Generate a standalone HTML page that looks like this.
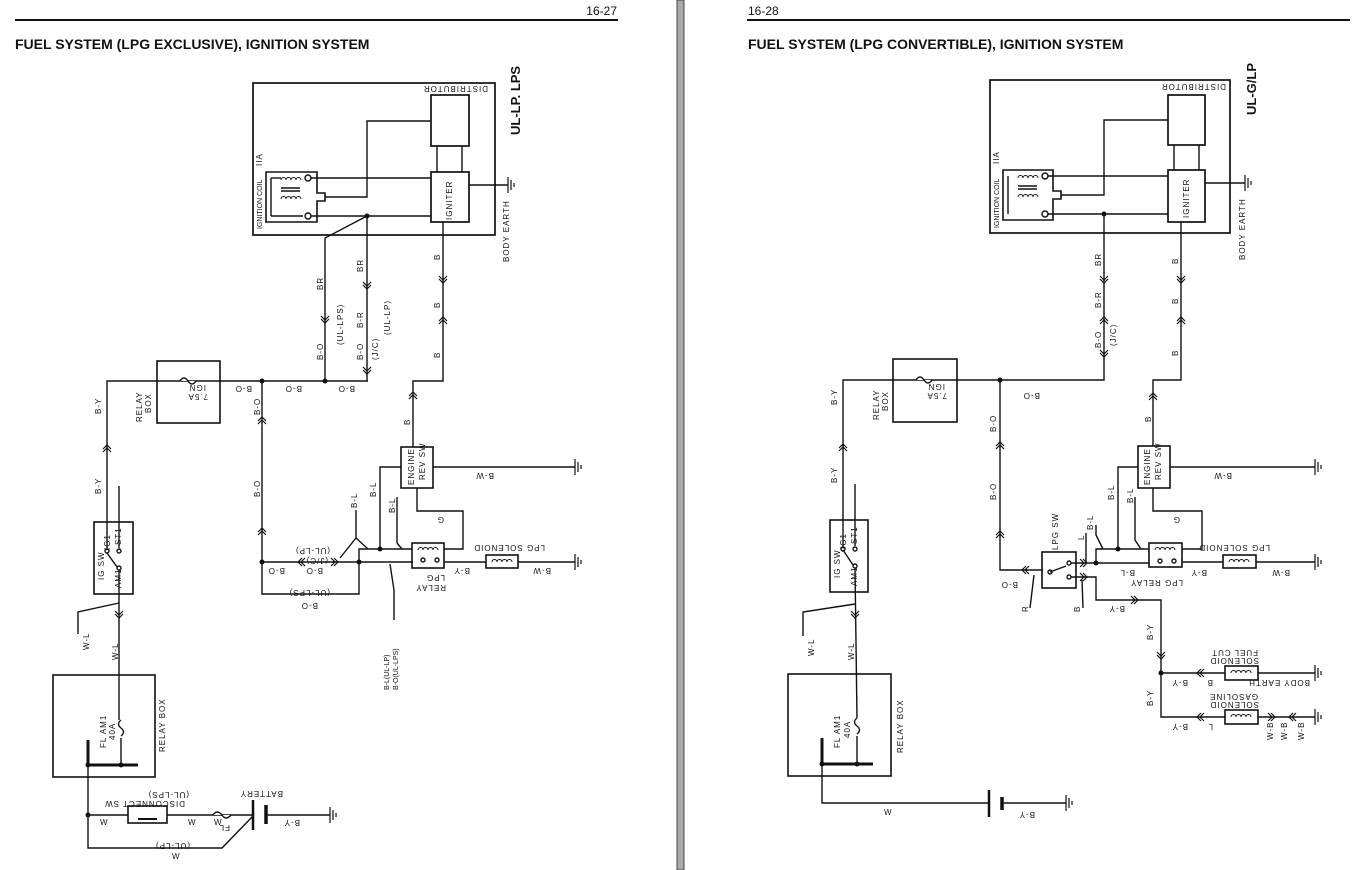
<!DOCTYPE html>
<html><head><meta charset="utf-8"><style>
html,body{margin:0;padding:0;background:#fff;}
svg{display:block;}
text{font-family:"Liberation Sans",sans-serif;fill:#111;}
.s{font-size:8px;letter-spacing:1px;}
.b{font-weight:bold;}
</style></head><body>
<svg width="1358" height="870" viewBox="0 0 1358 870" xmlns="http://www.w3.org/2000/svg">
<defs>
<g id="chU" fill="none" stroke="#111" stroke-width="1.2"><polyline points="-4,3 0,-1 4,3"/><polyline points="-4,6 0,2 4,6"/></g>
<g id="chD" fill="none" stroke="#111" stroke-width="1.2"><polyline points="-4,-3 0,1 4,-3"/><polyline points="-4,-6 0,-2 4,-6"/></g>
<g id="chL" fill="none" stroke="#111" stroke-width="1.2"><polyline points="3,-4 -1,0 3,4"/><polyline points="6,-4 2,0 6,4"/></g>
<g id="chR" fill="none" stroke="#111" stroke-width="1.2"><polyline points="-3,-4 1,0 -3,4"/><polyline points="-6,-4 -2,0 -6,4"/></g>
<g id="gnd" stroke="#111" stroke-width="1.2"><line x1="0" y1="-8" x2="0" y2="8"/><line x1="3" y1="-5" x2="3" y2="5"/><line x1="6" y1="-2" x2="6" y2="2"/></g>
<g id="coil" fill="none" stroke="#111" stroke-width="1"><path d="M0,0 a2.5,2.5 0 0 1 5,0 a2.5,2.5 0 0 1 5,0 a2.5,2.5 0 0 1 5,0 a2.5,2.5 0 0 1 5,0"/></g>
</defs>

<rect x="677" y="0" width="7" height="870" fill="#aaa" stroke="#444" stroke-width="1"/>

<text x="617" y="15" font-size="12" text-anchor="end">16-27</text>
<line x1="15" y1="20" x2="618" y2="20" stroke="#111" stroke-width="2"/>
<text x="15" y="49" font-size="14" class="b">FUEL SYSTEM (LPG EXCLUSIVE), IGNITION SYSTEM</text>
<text x="748" y="15" font-size="12">16-28</text>
<line x1="747" y1="20" x2="1350" y2="20" stroke="#111" stroke-width="2"/>
<text x="748" y="49" font-size="14" class="b">FUEL SYSTEM (LPG CONVERTIBLE), IGNITION SYSTEM</text>

<g fill="none" stroke="#111" stroke-width="1.4">
<!-- LEFT -->
<rect x="253" y="83" width="242" height="152" stroke-width="1.7"/>
<rect x="431" y="95" width="38" height="51" stroke-width="1.7"/>
<rect x="431" y="172" width="38" height="50" stroke-width="1.7"/>
<line x1="437" y1="146" x2="437" y2="172"/><line x1="462" y1="146" x2="462" y2="172"/>
<path d="M266,172 H317 V193 H325 V201 H317 V222 H266 Z" stroke-width="1.6"/>
<line x1="271" y1="178" x2="271" y2="216"/>
<polyline points="271,178 281,178"/><polyline points="271,216 303,216"/>
<line x1="281" y1="188" x2="300" y2="188"/><line x1="281" y1="191" x2="300" y2="191"/>
<use href="#coil" x="281" y="180"/><use href="#coil" x="281" y="199"/>
<circle cx="308" cy="178" r="3"/><circle cx="308" cy="216" r="3"/>
<line x1="311" y1="178" x2="431" y2="178"/>
<polyline points="325,197 367,197 367,121 431,121"/>
<line x1="311" y1="216" x2="431" y2="216"/>
<line x1="469" y1="185" x2="508" y2="185"/>
<use href="#gnd" x="508" y="185"/>
<polyline points="367,216 325,238 325,381"/>
<line x1="367" y1="216" x2="367" y2="381"/>
<polyline points="443,222 443,381 413,381 413,447"/>
<polyline points="107,522 107,381 368,381"/>
<rect x="157" y="361" width="63" height="62" stroke-width="1.6"/>
<path d="M180,381 q4,-6 8,0 q4,6 8,0" fill="#fff"/>
<line x1="262" y1="381" x2="262" y2="562"/>
<line x1="262" y1="562" x2="413" y2="562"/>
<polyline points="262,562 262,594 359,594 359,562"/>
<polyline points="359,562 359,549 412,549"/>
<rect x="412" y="543" width="32" height="25" stroke-width="1.6"/>
<use href="#coil" x="418" y="550"/>
<line x1="444" y1="562" x2="486" y2="562"/>
<rect x="486" y="555" width="32" height="13" stroke-width="1.6"/>
<use href="#coil" x="492" y="562"/>
<line x1="518" y1="562" x2="575" y2="562"/>
<use href="#gnd" x="575" y="562"/>
<rect x="401" y="447" width="32" height="41" stroke-width="1.6"/>
<line x1="433" y1="467" x2="575" y2="467"/>
<use href="#gnd" x="575" y="467"/>
<polyline points="401,467 380,467 380,549"/>
<polyline points="417,488 417,511 463,511 463,549 444,549"/>
<line x1="356" y1="510" x2="356" y2="538"/><polyline points="340,558 356,538 368,549"/>
<line x1="397" y1="497" x2="397" y2="543"/><line x1="397" y1="543" x2="402" y2="549"/>
<polyline points="394,620 394,590 390,564"/>
<circle cx="423" cy="560" r="2"/><circle cx="437" cy="560" r="2"/>
<rect x="94" y="522" width="39" height="72" stroke-width="1.6"/>
<line x1="119" y1="486" x2="119" y2="548"/>
<line x1="107" y1="522" x2="107" y2="550"/>
<line x1="107" y1="553" x2="117" y2="567"/>
<circle cx="107" cy="551" r="2"/><circle cx="119" cy="551" r="2"/><circle cx="119" cy="568" r="2"/>
<line x1="119" y1="570" x2="119" y2="720"/>
<polyline points="78,634 78,612 119,603"/>
<rect x="53" y="675" width="102" height="102" stroke-width="1.6"/>
<path d="M121,720 q-5,4 0,8 q5,4 0,8" />
<line x1="121" y1="738" x2="121" y2="765"/>
<line x1="88" y1="765" x2="138" y2="765" stroke-width="3"/>
<line x1="88" y1="740" x2="88" y2="765" stroke-width="3"/>
<polyline points="88,765 88,848 222,848 253,816"/>
<line x1="88" y1="815" x2="253" y2="815"/>
<rect x="128" y="806" width="39" height="17" fill="#fff" stroke-width="1.6"/>
<line x1="138" y1="819" x2="157" y2="819" stroke-width="2"/>
<path d="M213,815 q4,-6 9,0 q4,6 9,0" fill="#fff"/>
<line x1="253" y1="800" x2="253" y2="830" stroke-width="2.5"/>
<line x1="266" y1="805" x2="266" y2="824" stroke-width="3.5"/>
<line x1="266" y1="815" x2="330" y2="815"/>
<use href="#gnd" x="330" y="815"/>

<!-- RIGHT -->
<rect x="990" y="80" width="240" height="153" stroke-width="1.7"/>
<rect x="1168" y="95" width="37" height="50" stroke-width="1.7"/>
<rect x="1168" y="170" width="37" height="52" stroke-width="1.7"/>
<line x1="1174" y1="145" x2="1174" y2="170"/><line x1="1199" y1="145" x2="1199" y2="170"/>
<path d="M1003,170 H1053 V191 H1061 V199 H1053 V220 H1003 Z" stroke-width="1.6"/>
<line x1="1008" y1="176" x2="1008" y2="214"/>
<line x1="1018" y1="186" x2="1037" y2="186"/><line x1="1018" y1="189" x2="1037" y2="189"/>
<use href="#coil" x="1018" y="178"/><use href="#coil" x="1018" y="197"/>
<circle cx="1045" cy="176" r="3"/><circle cx="1045" cy="214" r="3"/>
<line x1="1048" y1="176" x2="1168" y2="176"/>
<polyline points="1061,195 1104,195 1104,120 1168,120"/>
<line x1="1048" y1="214" x2="1168" y2="214"/>
<line x1="1205" y1="183" x2="1245" y2="183"/>
<use href="#gnd" x="1245" y="183"/>
<polyline points="1104,214 1104,380 843,380 843,520"/>
<polyline points="1181,222 1181,380 1153,380 1153,446"/>
<rect x="893" y="359" width="64" height="63" stroke-width="1.6"/>
<path d="M916,380 q4,-6 8,0 q4,6 8,0" fill="#fff"/>
<polyline points="1000,380 1000,570 1043,570"/>
<rect x="1042" y="552" width="34" height="36" stroke-width="1.6"/>
<line x1="1050" y1="572" x2="1066" y2="566"/>
<circle cx="1050" cy="572" r="2"/><circle cx="1069" cy="563" r="2"/><circle cx="1069" cy="577" r="2"/>
<polyline points="1071,563 1096,563 1096,549 1149,549"/>
<line x1="1096" y1="563" x2="1149" y2="563"/>
<rect x="1149" y="543" width="33" height="24" stroke-width="1.6"/>
<use href="#coil" x="1155" y="550"/>
<line x1="1182" y1="562" x2="1223" y2="562"/>
<rect x="1223" y="555" width="33" height="13" stroke-width="1.6"/>
<use href="#coil" x="1229" y="562"/>
<line x1="1256" y1="562" x2="1315" y2="562"/>
<use href="#gnd" x="1315" y="562"/>
<rect x="1138" y="446" width="32" height="42" stroke-width="1.6"/>
<line x1="1170" y1="467" x2="1315" y2="467"/>
<use href="#gnd" x="1315" y="467"/>
<polyline points="1138,467 1118,467 1118,549"/>
<polyline points="1153,488 1153,511 1202,511 1202,549 1182,549"/>
<circle cx="1160" cy="561" r="2"/><circle cx="1174" cy="561" r="2"/>
<polyline points="1071,577 1096,577 1096,600 1161,600 1161,717 1225,717"/>
<line x1="1161" y1="673" x2="1225" y2="673"/>
<rect x="1225" y="666" width="33" height="14" stroke-width="1.6"/>
<use href="#coil" x="1231" y="673"/>
<line x1="1258" y1="673" x2="1315" y2="673"/>
<use href="#gnd" x="1315" y="673"/>
<rect x="1225" y="710" width="33" height="14" stroke-width="1.6"/>
<use href="#coil" x="1231" y="717"/>
<line x1="1258" y1="717" x2="1315" y2="717"/>
<use href="#gnd" x="1315" y="717"/>
<polyline points="1030,608 1034,575"/><polyline points="1083,608 1082,580"/>
<polyline points="1096,525 1096,535 1103,549"/><polyline points="1135,497 1135,540 1141,549"/>
<line x1="1086" y1="533" x2="1086" y2="563"/>
<rect x="830" y="520" width="38" height="72" stroke-width="1.6"/>
<line x1="855" y1="484" x2="855" y2="546"/>
<line x1="843" y1="520" x2="843" y2="548"/>
<line x1="843" y1="550" x2="853" y2="565"/>
<circle cx="843" cy="549" r="2"/><circle cx="855" cy="549" r="2"/><circle cx="855" cy="566" r="2"/>
<line x1="855" y1="568" x2="857" y2="718"/>
<polyline points="803,636 803,612 855,604"/>
<rect x="788" y="674" width="103" height="102" stroke-width="1.6"/>
<path d="M857,718 q-5,4 0,8 q5,4 0,8"/>
<line x1="857" y1="736" x2="857" y2="764"/>
<line x1="822" y1="764" x2="873" y2="764" stroke-width="3"/>
<line x1="822" y1="738" x2="822" y2="764" stroke-width="3"/>
<polyline points="822,764 822,803 989,803"/>
<line x1="989" y1="790" x2="989" y2="817" stroke-width="2.5"/>
<line x1="1002" y1="797" x2="1002" y2="810" stroke-width="3.5"/>
<line x1="1002" y1="803" x2="1066" y2="803"/>
<use href="#gnd" x="1066" y="803"/>
</g>

<g fill="#111">
<circle cx="367" cy="216" r="2.5"/><circle cx="325" cy="381" r="2.5"/><circle cx="262" cy="381" r="2.5"/>
<circle cx="262" cy="562" r="2.5"/><circle cx="359" cy="562" r="2.5"/><circle cx="380" cy="549" r="2.5"/>
<circle cx="88" cy="765" r="2.5"/><circle cx="121" cy="765" r="2.5"/><circle cx="88" cy="815" r="2.5"/>
<circle cx="1104" cy="214" r="2.5"/><circle cx="1000" cy="380" r="2.5"/><circle cx="1096" cy="563" r="2.5"/>
<circle cx="1118" cy="549" r="2.5"/><circle cx="1161" cy="673" r="2.5"/>
<circle cx="822" cy="764" r="2.5"/><circle cx="857" cy="764" r="2.5"/>
</g>

<use href="#chD" x="325" y="322"/><use href="#chD" x="367" y="288"/><use href="#chD" x="367" y="373"/>
<use href="#chD" x="443" y="282"/><use href="#chU" x="443" y="318"/><use href="#chU" x="413" y="393"/>
<use href="#chU" x="262" y="418"/><use href="#chU" x="262" y="529"/>
<use href="#chU" x="107" y="446"/><use href="#chD" x="119" y="617"/>
<use href="#chL" x="299" y="562"/><use href="#chR" x="337" y="562"/>
<use href="#chD" x="1104" y="282"/><use href="#chU" x="1104" y="318"/><use href="#chD" x="1104" y="356"/>
<use href="#chD" x="1181" y="282"/><use href="#chU" x="1181" y="318"/><use href="#chU" x="1153" y="394"/>
<use href="#chU" x="1000" y="443"/><use href="#chU" x="1000" y="532"/>
<use href="#chU" x="843" y="445"/><use href="#chD" x="855" y="617"/>
<use href="#chL" x="1023" y="570"/><use href="#chR" x="1086" y="563"/><use href="#chR" x="1086" y="577"/>
<use href="#chR" x="1137" y="600"/><use href="#chD" x="1161" y="658"/>
<use href="#chL" x="1198" y="673"/><use href="#chL" x="1198" y="717"/>
<use href="#chR" x="1274" y="717"/><use href="#chL" x="1290" y="717"/>

<!-- LEFT labels -->
<text class="s" transform="translate(488,86) rotate(180)">DISTRIBUTOR</text>
<text font-size="7" transform="translate(262,229) rotate(-90)">IGNITION COIL</text>
<text class="s" transform="translate(262,166) rotate(-90)">IIA</text>
<text class="s" transform="translate(452,220) rotate(-90)">IGNITER</text>
<text font-size="13" class="b" transform="translate(520,135) rotate(-90)">UL-LP. LPS</text>
<text class="s" transform="translate(509,262) rotate(-90)">BODY EARTH</text>
<text class="s" transform="translate(323,290) rotate(-90)">BR</text>
<text class="s" transform="translate(323,360) rotate(-90)">B-O</text>
<text class="s" transform="translate(343,345) rotate(-90)">(UL-LPS)</text>
<text class="s" transform="translate(363,272) rotate(-90)">BR</text>
<text class="s" transform="translate(363,328) rotate(-90)">B-R</text>
<text class="s" transform="translate(363,360) rotate(-90)">B-O</text>
<text class="s" transform="translate(378,360) rotate(-90)">(J/C)</text>
<text class="s" transform="translate(390,335) rotate(-90)">(UL-LP)</text>
<text class="s" transform="translate(440,260) rotate(-90)">B</text>
<text class="s" transform="translate(440,308) rotate(-90)">B</text>
<text class="s" transform="translate(440,358) rotate(-90)">B</text>
<text class="s" transform="translate(410,425) rotate(-90)">B</text>
<text class="s" transform="translate(252,386) rotate(180)">B-O</text>
<text class="s" transform="translate(302,386) rotate(180)">B-O</text>
<text class="s" transform="translate(355,386) rotate(180)">B-O</text>
<text class="s" transform="translate(206,385) rotate(180)">IGN</text>
<text class="s" transform="translate(208,394) rotate(180)">7.5A</text>
<text class="s" transform="translate(142,422) rotate(-90)">RELAY</text>
<text class="s" transform="translate(151,413) rotate(-90)">BOX</text>
<text class="s" transform="translate(101,414) rotate(-90)">B-Y</text>
<text class="s" transform="translate(101,494) rotate(-90)">B-Y</text>
<text class="s" transform="translate(260,415) rotate(-90)">B-O</text>
<text class="s" transform="translate(260,497) rotate(-90)">B-O</text>
<text class="s" transform="translate(104,580) rotate(-90)">IG SW</text>
<text class="s" transform="translate(110,550) rotate(-90)">IG1</text>
<text class="s" transform="translate(121,545) rotate(-90)">ST1</text>
<text class="s" transform="translate(121,588) rotate(-90)">AM1</text>
<text class="s" transform="translate(285,568) rotate(180)">B-O</text>
<text class="s" transform="translate(323,568) rotate(180)">B-O</text>
<text class="s" transform="translate(330,548) rotate(180)">(UL-LP)</text>
<text class="s" transform="translate(328,558) rotate(180)">(J/C)</text>
<text class="s" transform="translate(330,590) rotate(180)">(UL-LPS)</text>
<text class="s" transform="translate(318,603) rotate(180)">B-O</text>
<text class="s" transform="translate(357,508) rotate(-90)">B-L</text>
<text class="s" transform="translate(376,497) rotate(-90)">B-L</text>
<text class="s" transform="translate(395,513) rotate(-90)">B-L</text>
<text class="s" transform="translate(414,485) rotate(-90)">ENGINE</text>
<text class="s" transform="translate(425,480) rotate(-90)">REV SW</text>
<text class="s" transform="translate(494,473) rotate(180)">B-W</text>
<text class="s" transform="translate(444,517) rotate(180)">G</text>
<text class="s" transform="translate(545,545) rotate(180)">LPG SOLENOID</text>
<text class="s" transform="translate(551,568) rotate(180)">B-W</text>
<text class="s" transform="translate(470,568) rotate(180)">B-Y</text>
<text class="s" transform="translate(445,575) rotate(180)">LPG</text>
<text class="s" transform="translate(446,585) rotate(180)">RELAY</text>
<text font-size="7" transform="translate(389,690) rotate(-90)">B-L(UL-LP)</text>
<text font-size="7" transform="translate(398,690) rotate(-90)">B-O(UL-LPS)</text>
<text class="s" transform="translate(89,650) rotate(-90)">W-L</text>
<text class="s" transform="translate(118,660) rotate(-90)">W-L</text>
<text class="s" transform="translate(106,748) rotate(-90)">FL AM1</text>
<text class="s" transform="translate(115,740) rotate(-90)">40A</text>
<text class="s" transform="translate(165,752) rotate(-90)">RELAY BOX</text>
<text class="s" transform="translate(189,792) rotate(180)">(UL-LPS)</text>
<text class="s" transform="translate(185,801) rotate(180)">DISCONNECT SW</text>
<text class="s" transform="translate(283,791) rotate(180)">BATTERY</text>
<text class="s" transform="translate(100,825)">W</text>
<text class="s" transform="translate(188,825)">W</text>
<text class="s" transform="translate(214,825)">W</text>
<text class="s" transform="translate(230,825) rotate(180)">FL</text>
<text class="s" transform="translate(300,820) rotate(180)">B-Y</text>
<text class="s" transform="translate(190,843) rotate(180)">(UL-LP)</text>
<text class="s" x="172" y="859">W</text>

<!-- RIGHT labels -->
<text class="s" transform="translate(1226,84) rotate(180)">DISTRIBUTOR</text>
<text font-size="7" transform="translate(999,228) rotate(-90)">IGNITION COIL</text>
<text class="s" transform="translate(999,164) rotate(-90)">IIA</text>
<text class="s" transform="translate(1189,218) rotate(-90)">IGNITER</text>
<text font-size="13" class="b" transform="translate(1256,115) rotate(-90)">UL-G/LP</text>
<text class="s" transform="translate(1245,260) rotate(-90)">BODY EARTH</text>
<text class="s" transform="translate(1101,266) rotate(-90)">BR</text>
<text class="s" transform="translate(1101,308) rotate(-90)">B-R</text>
<text class="s" transform="translate(1101,348) rotate(-90)">B-O</text>
<text class="s" transform="translate(1116,346) rotate(-90)">(J/C)</text>
<text class="s" transform="translate(1178,264) rotate(-90)">B</text>
<text class="s" transform="translate(1178,304) rotate(-90)">B</text>
<text class="s" transform="translate(1178,356) rotate(-90)">B</text>
<text class="s" transform="translate(1151,422) rotate(-90)">B</text>
<text class="s" transform="translate(1040,393) rotate(180)">B-O</text>
<text class="s" transform="translate(945,384) rotate(180)">IGN</text>
<text class="s" transform="translate(947,393) rotate(180)">7.5A</text>
<text class="s" transform="translate(879,420) rotate(-90)">RELAY</text>
<text class="s" transform="translate(888,411) rotate(-90)">BOX</text>
<text class="s" transform="translate(837,405) rotate(-90)">B-Y</text>
<text class="s" transform="translate(837,483) rotate(-90)">B-Y</text>
<text class="s" transform="translate(996,432) rotate(-90)">B-O</text>
<text class="s" transform="translate(996,500) rotate(-90)">B-O</text>
<text class="s" transform="translate(1018,582) rotate(180)">B-O</text>
<text class="s" transform="translate(1028,612) rotate(-90)">R</text>
<text class="s" transform="translate(1080,612) rotate(-90)">B</text>
<text class="s" transform="translate(1058,550) rotate(-90)">LPG SW</text>
<text class="s" transform="translate(1084,540) rotate(-90)">L</text>
<text class="s" transform="translate(1093,530) rotate(-90)">B-L</text>
<text class="s" transform="translate(1114,500) rotate(-90)">B-L</text>
<text class="s" transform="translate(1133,503) rotate(-90)">B-L</text>
<text class="s" transform="translate(1150,485) rotate(-90)">ENGINE</text>
<text class="s" transform="translate(1161,480) rotate(-90)">REV SW</text>
<text class="s" transform="translate(1232,473) rotate(180)">B-W</text>
<text class="s" transform="translate(1180,517) rotate(180)">G</text>
<text class="s" transform="translate(1270,545) rotate(180)">LPG SOLENOID</text>
<text class="s" transform="translate(1290,570) rotate(180)">B-W</text>
<text class="s" transform="translate(1207,570) rotate(180)">B-Y</text>
<text class="s" transform="translate(1135,570) rotate(180)">B-L</text>
<text class="s" transform="translate(1183,580) rotate(180)">LPG RELAY</text>
<text class="s" transform="translate(1125,606) rotate(180)">B-Y</text>
<text class="s" transform="translate(1153,640) rotate(-90)">B-Y</text>
<text class="s" transform="translate(1258,650) rotate(180)">FUEL CUT</text>
<text class="s" transform="translate(1259,658) rotate(180)">SOLENOID</text>
<text class="s" transform="translate(1188,680) rotate(180)">B-Y</text>
<text class="s" transform="translate(1213,680) rotate(180)">B</text>
<text class="s" transform="translate(1310,680) rotate(180)">BODY EARTH</text>
<text class="s" transform="translate(1153,706) rotate(-90)">B-Y</text>
<text class="s" transform="translate(1258,694) rotate(180)">GASOLINE</text>
<text class="s" transform="translate(1259,702) rotate(180)">SOLENOID</text>
<text class="s" transform="translate(1188,724) rotate(180)">B-Y</text>
<text class="s" transform="translate(1213,724) rotate(180)">L</text>
<text class="s" transform="translate(1273,740) rotate(-90)">W-B</text>
<text class="s" transform="translate(1287,740) rotate(-90)">W-B</text>
<text class="s" transform="translate(1304,740) rotate(-90)">W-B</text>
<text class="s" transform="translate(840,578) rotate(-90)">IG SW</text>
<text class="s" transform="translate(846,549) rotate(-90)">IG1</text>
<text class="s" transform="translate(857,544) rotate(-90)">ST1</text>
<text class="s" transform="translate(857,586) rotate(-90)">AM1</text>
<text class="s" transform="translate(814,656) rotate(-90)">W-L</text>
<text class="s" transform="translate(854,660) rotate(-90)">W-L</text>
<text class="s" transform="translate(840,748) rotate(-90)">FL AM1</text>
<text class="s" transform="translate(850,738) rotate(-90)">40A</text>
<text class="s" transform="translate(903,753) rotate(-90)">RELAY BOX</text>
<text class="s" x="884" y="815">W</text>
<text class="s" transform="translate(1035,812) rotate(180)">B-Y</text>
</svg>
</body></html>
